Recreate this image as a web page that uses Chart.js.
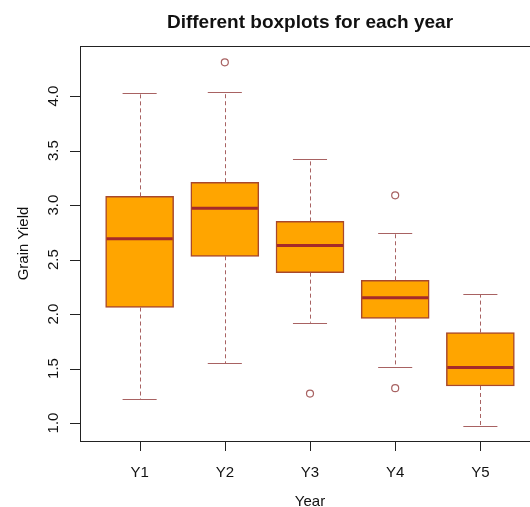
<!DOCTYPE html>
<html>
<head>
<meta charset="utf-8">
<script src="https://cdn.jsdelivr.net/npm/chart.js@4"></script>
<style>
  html, body { margin: 0; padding: 0; overflow: hidden; background: #fff; }
  #wrap { width: 560px; height: 507px; }
</style>
</head>
<body>
<div id="wrap"><canvas id="boxplots" width="560" height="507"></canvas></div>
<script>
// values
var years = ['Y1', 'Y2', 'Y3', 'Y4', 'Y5'];
var lowWhisker = [1.22, 1.55, 1.92, 1.51, 0.975];
var q1 = [2.06, 2.53, 2.38, 1.96, 1.34];
var medians = [2.69, 2.97, 2.63, 2.15, 1.51];
var q3 = [3.08, 3.21, 2.85, 2.31, 1.83];
var highWhisker = [4.03, 4.04, 3.42, 2.74, 2.18];
var outlierYear = [2, 3, 4, 4];
var outlierValue = [4.31, 1.27, 3.09, 1.32];
var yTicks = [1.0, 1.5, 2.0, 2.5, 3.0, 3.5, 4.0];

var FONT = '"Liberation Sans", Arial, sans-serif';
var BROWN = '#A52A2A';
var WHISKER = '#A86262';

// whiskers, staples and medians, placed with the chart's scales
var boxExtras = {
  id: 'boxExtras',
  afterDatasetsDraw: function (chart) {
    var ctx = chart.ctx, xs = chart.scales.x, ys = chart.scales.y;
    ctx.save();
    years.forEach(function (y, i) {
      var cx = xs.getPixelForValue(i + 1);
      var half = xs.getPixelForValue(i + 1.4) - cx;
      var capHalf = xs.getPixelForValue(i + 1.2) - cx;
      var px = Math.round(cx) + 0.5;
      // dashed whiskers
      ctx.strokeStyle = WHISKER;
      ctx.lineWidth = 1;
      ctx.setLineDash([4, 3]);
      ctx.beginPath();
      ctx.moveTo(px, ys.getPixelForValue(q3[i]));
      ctx.lineTo(px, ys.getPixelForValue(highWhisker[i]));
      ctx.moveTo(px, ys.getPixelForValue(q1[i]));
      ctx.lineTo(px, ys.getPixelForValue(lowWhisker[i]));
      ctx.stroke();
      // staples
      ctx.setLineDash([]);
      ctx.beginPath();
      var hy = Math.round(ys.getPixelForValue(highWhisker[i])) + 0.5;
      var ly = Math.round(ys.getPixelForValue(lowWhisker[i])) + 0.5;
      ctx.moveTo(cx - capHalf, hy); ctx.lineTo(cx + capHalf, hy);
      ctx.moveTo(cx - capHalf, ly); ctx.lineTo(cx + capHalf, ly);
      ctx.stroke();
      // median
      ctx.strokeStyle = BROWN;
      ctx.lineWidth = 3;
      ctx.beginPath();
      var my = ys.getPixelForValue(medians[i]);
      ctx.moveTo(cx - half + 1, my); ctx.lineTo(cx + half - 1, my);
      ctx.stroke();
    });
    ctx.restore();
  },
  afterDraw: function (chart) {
    var ctx = chart.ctx, xs = chart.scales.x, ys = chart.scales.y, a = chart.chartArea;
    ctx.save();
    ctx.strokeStyle = '#222';
    ctx.lineWidth = 1;
    // frame
    ctx.strokeRect(Math.round(a.left) + 0.5, Math.round(a.top) + 0.5,
      Math.round(a.right - a.left), Math.round(a.bottom - a.top));
    // y ticks
    ctx.fillStyle = '#111';
    ctx.font = '15px ' + FONT;
    ctx.beginPath();
    yTicks.forEach(function (t) {
      var py = Math.round(ys.getPixelForValue(t)) + 0.5;
      ctx.moveTo(a.left - 10, py); ctx.lineTo(a.left, py);
    });
    ctx.stroke();
    ctx.textAlign = 'center';
    ctx.textBaseline = 'alphabetic';
    yTicks.forEach(function (t) {
      ctx.save();
      ctx.translate(a.left - 22, ys.getPixelForValue(t));
      ctx.rotate(-Math.PI / 2);
      ctx.fillText(t.toFixed(1), 0, 0);
      ctx.restore();
    });
    // x ticks
    ctx.beginPath();
    years.forEach(function (y, i) {
      var px = Math.round(xs.getPixelForValue(i + 1)) + 0.5;
      ctx.moveTo(px, a.bottom); ctx.lineTo(px, a.bottom + 10);
    });
    ctx.stroke();
    years.forEach(function (y, i) {
      ctx.fillText(y, xs.getPixelForValue(i + 1), a.bottom + 36);
    });
    // axis titles
    var midX = (a.left + a.right) / 2;
    ctx.fillText('Year', midX, a.bottom + 65);
    ctx.save();
    ctx.translate(28, (a.top + a.bottom) / 2);
    ctx.rotate(-Math.PI / 2);
    ctx.fillText('Grain Yield', 0, 0);
    ctx.restore();
    // main title
    ctx.font = 'bold 19px ' + FONT;
    ctx.fillText('Different boxplots for each year', midX, 28);
    ctx.restore();
  }
};

var ctx = document.getElementById('boxplots').getContext('2d');
var chart = new Chart(ctx, {
  type: 'bar',
  data: {
    datasets: [{
      label: 'boxes',
      data: years.map(function (y, i) { return { x: i + 1, y: [q1[i], q3[i]] }; }),
      backgroundColor: '#FFA500',
      borderColor: '#A8482C',
      borderWidth: 1.5,
      borderSkipped: false,
      barThickness: 68
    }, {
      type: 'scatter',
      label: 'outliers',
      data: outlierYear.map(function (x, i) { return { x: x, y: outlierValue[i] }; }),
      pointRadius: 3.5,
      pointBackgroundColor: 'rgba(0,0,0,0)',
      pointBorderColor: WHISKER,
      pointBorderWidth: 1.2
    }]
  },
  options: {
    responsive: false,
    animation: false,
    devicePixelRatio: 1,
    layout: { padding: { left: 80, top: 46, right: 20, bottom: 66 } },
    plugins: { legend: { display: false }, tooltip: { enabled: false } },
    scales: {
      x: { type: 'linear', min: 0.3, max: 5.7, offset: false, display: false },
      y: { min: 0.835, max: 4.46, display: false }
    }
  },
  plugins: [boxExtras]
});
</script>
</body>
</html>
